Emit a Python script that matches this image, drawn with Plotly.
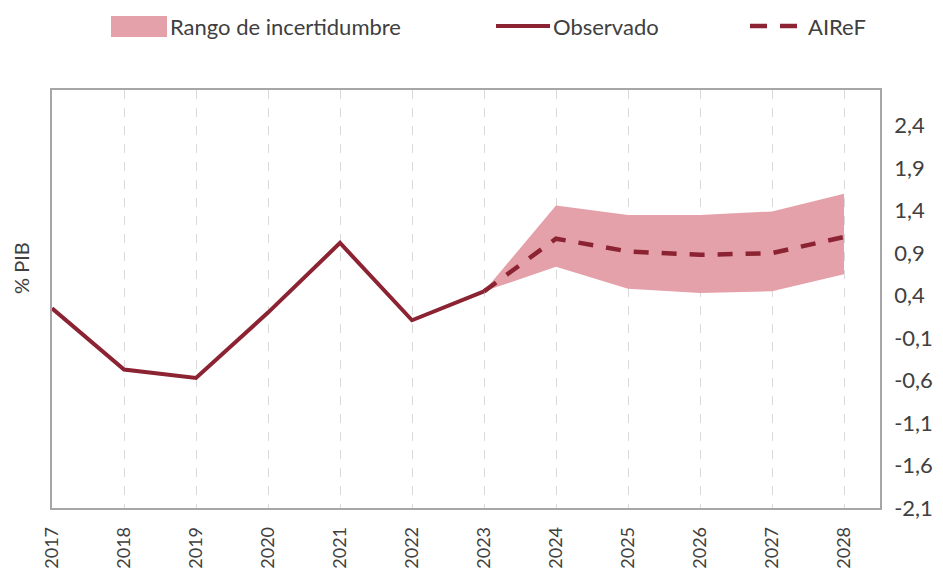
import plotly.graph_objects as go

# ---- data ----
years_obs = [2017, 2018, 2019, 2020, 2021, 2022, 2023]
observado = [0.25, -0.47, -0.57, 0.20, 1.02, 0.11, 0.45]

years_proj = [2023, 2024, 2025, 2026, 2027, 2028]
airef = [0.45, 1.07, 0.92, 0.88, 0.90, 1.09]
rango_sup = [0.45, 1.46, 1.35, 1.35, 1.39, 1.60]
rango_inf = [0.45, 0.74, 0.48, 0.43, 0.45, 0.65]

x_ticks = list(range(2017, 2029))
y_ticks = [-2.1, -1.6, -1.1, -0.6, -0.1, 0.4, 0.9, 1.4, 1.9, 2.4]
y_ticklabels = ["-2,1", "-1,6", "-1,1", "-0,6", "-0,1", "0,4", "0,9", "1,4", "1,9", "2,4"]

RED = "#8B2332"
PINK = "#E4A1AA"
TXT = "#404040"
FONT = "Lato"

fig = go.Figure()

# uncertainty band
fig.add_trace(go.Scatter(x=years_proj, y=rango_inf, mode="lines",
                         line=dict(width=0, color=PINK), showlegend=False, hoverinfo="skip"))
fig.add_trace(go.Scatter(x=years_proj, y=rango_sup, mode="lines", fill="tonexty",
                         fillcolor=PINK, line=dict(width=0, color=PINK),
                         name="Rango de incertidumbre", showlegend=False))
# projection
fig.add_trace(go.Scatter(x=years_proj, y=airef, mode="lines", name="AIReF",
                         line=dict(color=RED, width=4.5, dash="15px,13px"), showlegend=False))
# observed
fig.add_trace(go.Scatter(x=years_obs, y=observado, mode="lines", name="Observado",
                         line=dict(color=RED, width=4), showlegend=False))

OFF = 8  # page body margin
W, H = 943 - OFF, 571 - OFF
L, R, T, B = 52 - OFF, 880 - OFF, 90 - OFF, 508 - OFF


def px(x):
    return (x - OFF - L) / (R - L)


def py(y):
    return (B - (y - OFF)) / (B - T)


shapes = [
    dict(type="rect", xref="paper", yref="paper", x0=px(111), x1=px(167), y0=py(37), y1=py(16),
         fillcolor=PINK, line=dict(width=0)),
    dict(type="line", xref="paper", yref="paper", x0=px(496), x1=px(550), y0=py(26), y1=py(26),
         line=dict(color=RED, width=4)),
    dict(type="line", xref="paper", yref="paper", x0=px(750), x1=px(802), y0=py(26), y1=py(26),
         line=dict(color=RED, width=4.5, dash="17px,13px")),
]

annotations = [
    dict(text="Rango de incertidumbre", xref="paper", yref="paper", x=px(168), y=py(26),
         xanchor="left", yanchor="middle", showarrow=False, font=dict(size=22, color=TXT, family=FONT)),
    dict(text="Observado", xref="paper", yref="paper", x=px(551), y=py(26),
         xanchor="left", yanchor="middle", showarrow=False, font=dict(size=22, color=TXT, family=FONT)),
    dict(text="AIReF", xref="paper", yref="paper", x=px(806), y=py(26),
         xanchor="left", yanchor="middle", showarrow=False, font=dict(size=22, color=TXT, family=FONT)),
    dict(text="% PIB", xref="paper", yref="paper", x=px(21), y=py(268),
         xanchor="center", yanchor="middle", textangle=-90, showarrow=False,
         font=dict(size=20, color=TXT, family=FONT)),
]

fig.update_layout(
    width=W, height=H,
    margin=dict(l=L, r=W - R, t=T, b=H - B, pad=0, autoexpand=False),
    plot_bgcolor="white", paper_bgcolor="white",
    font=dict(family=FONT, color=TXT, size=20),
    shapes=shapes, annotations=annotations,
    showlegend=False,
)

fig.update_xaxes(
    range=[2017, 2028.5], tickvals=x_ticks, ticktext=[str(v) for v in x_ticks],
    tickangle=-90, showgrid=True, gridcolor="#D9D9D9", griddash="dash", gridwidth=1,
    showline=True, linecolor="#A6A6A6", linewidth=1.5, mirror=True, zeroline=False,
    ticks="outside", ticklen=10, tickcolor="rgba(0,0,0,0)", automargin=False,
    tickfont=dict(size=18, color=TXT, family=FONT),
)
fig.update_yaxes(
    range=[-2.1, 2.82], tickvals=y_ticks, ticktext=y_ticklabels, side="right",
    showgrid=False, showline=True, linecolor="#A6A6A6", linewidth=1.5, mirror=True,
    zeroline=False, ticks="outside", ticklen=8, tickcolor="rgba(0,0,0,0)", automargin=False,
    tickfont=dict(size=22, color=TXT, family=FONT),
)

fig.write_html("out.html")
